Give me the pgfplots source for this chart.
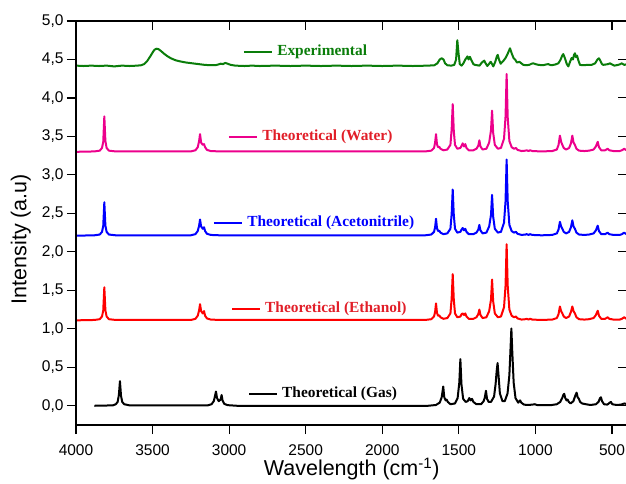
\documentclass[border=0pt]{standalone}
\usepackage{fontspec}
\setmainfont{Liberation Serif}
\newfontfamily\arial{Liberation Sans}
\usepackage{pgfplots}
\pgfplotsset{compat=1.18}
\usepackage{pgfplotstable}
\definecolor{expgreen}{RGB}{10,125,10}
\definecolor{txtred}{RGB}{225,30,40}

\pgfplotstableread{
x y
3880 0
3760 0.005
3740 0.02
3728 0.05
3720 0.14
3713 0.32
3706 0.13
3698 0.05
3685 0.02
3650 0.005
3140 0.005
3115 0.02
3100 0.06
3092 0.13
3086 0.185
3079 0.10
3068 0.06
3056 0.08
3049 0.14
3043 0.07
3032 0.025
3010 0.008
2950 0
1700 0
1650 0.01
1625 0.04
1612 0.11
1602 0.25
1595 0.11
1586 0.07
1580 0.08
1572 0.05
1555 0.02
1525 0.03
1508 0.10
1497 0.30
1490 0.606
1483 0.28
1472 0.09
1455 0.05
1442 0.06
1432 0.10
1423 0.07
1414 0.09
1405 0.05
1385 0.02
1355 0.02
1338 0.06
1330 0.11
1323 0.195
1316 0.09
1305 0.05
1290 0.05
1270 0.12
1260 0.28
1253 0.45
1247 0.555
1241 0.40
1232 0.16
1215 0.06
1200 0.06
1182 0.16
1170 0.40
1163 0.72
1157 1.005
1151 0.70
1142 0.30
1130 0.10
1112 0.04
1100 0.07
1092 0.04
1075 0.015
1050 0.01
1020 0.015
1003 0.02
990 0.01
960 0.008
900 0.008
860 0.02
838 0.05
825 0.10
818 0.14
812 0.155
805 0.10
797 0.07
790 0.08
782 0.05
770 0.03
752 0.06
740 0.13
731 0.17
724 0.11
716 0.09
708 0.05
695 0.03
670 0.02
640 0.01
605 0.02
588 0.05
578 0.10
572 0.11
565 0.06
552 0.02
530 0.015
515 0.04
507 0.05
498 0.02
470 0.01
440 0.015
420 0.03
400 0.02
}\gasdata

\pgfplotstableread{
x eth ace wat
4000 1.110 2.210 3.300
3880 1.115 2.215 3.305
3845 1.125 2.225 3.315
3830 1.160 2.260 3.350
3822 1.240 2.340 3.430
3815 1.540 2.645 3.760
3808 1.240 2.340 3.440
3800 1.160 2.260 3.350
3785 1.125 2.225 3.315
3740 1.115 2.215 3.305
3250 1.115 2.215 3.305
3220 1.130 2.230 3.320
3205 1.170 2.270 3.360
3196 1.240 2.340 3.440
3190 1.320 2.420 3.530
3183 1.230 2.330 3.420
3172 1.200 2.300 3.390
3164 1.230 2.320 3.400
3157 1.170 2.270 3.360
3145 1.135 2.235 3.325
3120 1.120 2.220 3.310
3060 1.115 2.215 3.305
1720 1.115 2.215 3.305
1680 1.125 2.225 3.315
1662 1.160 2.260 3.350
1655 1.220 2.320 3.420
1649 1.330 2.430 3.530
1643 1.210 2.310 3.400
1636 1.170 2.270 3.360
1628 1.175 2.275 3.365
1620 1.150 2.250 3.340
1600 1.130 2.230 3.320
1575 1.140 2.240 3.330
1555 1.200 2.300 3.390
1547 1.390 2.490 3.590
1540 1.710 2.810 3.920
1533 1.380 2.480 3.570
1525 1.200 2.300 3.390
1510 1.150 2.250 3.340
1490 1.160 2.260 3.350
1482 1.190 2.290 3.380
1475 1.200 2.310 3.410
1466 1.180 2.280 3.370
1458 1.200 2.300 3.400
1450 1.160 2.260 3.350
1435 1.130 2.230 3.320
1405 1.130 2.230 3.320
1385 1.150 2.250 3.340
1373 1.190 2.290 3.380
1366 1.250 2.350 3.450
1359 1.180 2.280 3.370
1345 1.140 2.240 3.330
1320 1.150 2.250 3.340
1302 1.230 2.330 3.420
1290 1.380 2.480 3.580
1283 1.640 2.740 3.835
1276 1.360 2.460 3.550
1265 1.200 2.300 3.390
1245 1.150 2.250 3.340
1225 1.160 2.260 3.350
1205 1.280 2.380 3.470
1195 1.560 2.660 3.760
1188 2.100 3.200 4.310
1181 1.560 2.660 3.750
1170 1.250 2.350 3.440
1155 1.170 2.270 3.360
1140 1.150 2.250 3.340
1127 1.160 2.260 3.350
1117 1.135 2.235 3.325
1090 1.120 2.220 3.310
1065 1.125 2.225 3.315
1057 1.130 2.230 3.320
1045 1.120 2.220 3.310
1035 1.130 2.230 3.320
1020 1.120 2.220 3.310
960 1.115 2.215 3.305
890 1.120 2.220 3.310
860 1.140 2.240 3.330
849 1.190 2.290 3.390
840 1.290 2.390 3.510
832 1.230 2.330 3.430
824 1.200 2.300 3.390
815 1.160 2.260 3.350
800 1.140 2.240 3.330
780 1.160 2.260 3.350
768 1.220 2.320 3.410
759 1.290 2.410 3.510
751 1.230 2.330 3.420
742 1.200 2.300 3.390
732 1.150 2.250 3.340
715 1.125 2.225 3.315
680 1.120 2.220 3.310
650 1.125 2.225 3.315
620 1.140 2.240 3.330
605 1.180 2.280 3.370
593 1.235 2.340 3.430
585 1.170 2.270 3.360
570 1.130 2.230 3.320
545 1.130 2.230 3.320
528 1.150 2.250 3.340
518 1.130 2.230 3.320
490 1.120 2.220 3.310
450 1.120 2.220 3.310
435 1.130 2.230 3.320
420 1.150 2.250 3.340
410 1.135 2.235 3.325
400 1.130 2.230 3.320
}\soldata

\pgfplotstableread{
x y
4000 4.420
3950 4.415
3900 4.420
3850 4.415
3800 4.420
3750 4.410
3700 4.420
3650 4.415
3600 4.420
3575 4.425
3555 4.440
3535 4.480
3515 4.540
3500 4.590
3488 4.625
3475 4.640
3462 4.635
3445 4.610
3425 4.575
3405 4.545
3380 4.515
3350 4.490
3320 4.475
3280 4.460
3240 4.450
3200 4.440
3160 4.430
3120 4.425
3090 4.425
3070 4.435
3055 4.445
3040 4.440
3025 4.455
3010 4.445
2990 4.430
2960 4.420
2900 4.415
2850 4.420
2800 4.415
2700 4.420
2600 4.415
2500 4.420
2400 4.415
2300 4.420
2200 4.415
2100 4.420
2000 4.415
1900 4.420
1800 4.415
1700 4.420
1660 4.425
1640 4.450
1625 4.500
1612 4.515
1600 4.500
1590 4.450
1575 4.425
1550 4.420
1530 4.430
1518 4.500
1510 4.750
1502 4.580
1494 4.440
1482 4.420
1470 4.450
1458 4.500
1450 4.520
1444 4.540
1437 4.500
1428 4.535
1418 4.490
1405 4.440
1395 4.430
1380 4.425
1365 4.420
1350 4.460
1334 4.485
1325 4.450
1314 4.415
1300 4.450
1292 4.470
1283 4.440
1275 4.410
1262 4.470
1252 4.540
1246 4.560
1238 4.500
1227 4.445
1210 4.480
1195 4.520
1180 4.580
1166 4.645
1155 4.580
1143 4.520
1133 4.500
1120 4.460
1105 4.470
1092 4.450
1079 4.430
1060 4.425
1040 4.430
1025 4.445
1014 4.450
1000 4.440
981 4.430
950 4.425
930 4.435
916 4.440
905 4.430
894 4.425
870 4.435
850 4.450
835 4.500
825 4.550
818 4.570
808 4.520
795 4.440
785 4.410
772 4.480
763 4.520
755 4.500
748 4.560
742 4.580
735 4.530
728 4.550
720 4.490
709 4.430
690 4.425
660 4.430
633 4.430
610 4.450
595 4.500
585 4.515
575 4.480
565 4.440
557 4.430
540 4.435
525 4.440
513 4.450
500 4.435
485 4.420
460 4.430
445 4.440
437 4.450
420 4.430
400 4.440
}\expdata

\begin{document}
\begin{tikzpicture}
\pgfplotsset{
  common/.style={
    scale only axis, width=551.3pt, height=404pt,
    x dir=reverse, xmin=400, xmax=4000, ymin=-0.25, ymax=5,
    xtick={500,1000,1500,2000,2500,3000,3500,4000},
    ytick={0,0.5,1,1.5,2,2.5,3,3.5,4,4.5,5},
    major tick length=9pt,
    axis line style={line width=1.1pt},
    every tick/.style={line width=1.1pt, black},
  }
}
\begin{axis}[common, name=main,
    tick align=outside, xtick pos=bottom, ytick pos=left,
    tick label style={font=\arial\fontsize{15.5}{17}\selectfont},
    /pgf/number format/assume math mode=true,
    x tick label style={/pgf/number format/1000 sep={}, yshift=-7pt},
    y tick label style={/pgf/number format/.cd, use comma, fixed, fixed zerofill, precision=1},
    xlabel={Wavelength (cm\textsuperscript{-1})},
    ylabel={Intensity (a.u)},
    label style={font=\arial\fontsize{21.5}{24}\selectfont},
    x label style={at={(axis description cs:0.5,0)}, anchor=center, yshift=-44pt},
    y label style={at={(axis description cs:-0.1,0.46)}, anchor=center},
    every axis plot/.append style={line width=2pt, line join=round},
  ]
\addplot[black, no markers] table[x=x, y=y] {\gasdata};
\addplot[red, no markers] table[x=x, y=eth] {\soldata};
\addplot[blue, no markers] table[x=x, y=ace] {\soldata};
\addplot[magenta, no markers] table[x=x, y=wat] {\soldata};
\addplot[expgreen, no markers] table[x=x, y=y] {\expdata};

\draw[expgreen, line width=2pt] (axis cs:2903,4.597) -- (axis cs:2720,4.597);
\node[anchor=west, inner sep=0pt, text=expgreen, font=\bfseries\fontsize{15.4}{18}\selectfont] at (axis cs:2687,4.597) {Experimental};
\draw[magenta, line width=2pt] (axis cs:3001,3.49) -- (axis cs:2818,3.49);
\node[anchor=west, inner sep=0pt, text=txtred, font=\bfseries\fontsize{15.4}{18}\selectfont] at (axis cs:2785,3.49) {Theoretical (Water)};
\draw[blue, line width=2pt] (axis cs:3099,2.377) -- (axis cs:2916,2.377);
\node[anchor=west, inner sep=0pt, text=blue, font=\bfseries\fontsize{15.4}{18}\selectfont] at (axis cs:2883,2.377) {Theoretical (Acetonitrile)};
\draw[red, line width=2pt] (axis cs:2981,1.26) -- (axis cs:2798,1.26);
\node[anchor=west, inner sep=0pt, text=txtred, font=\bfseries\fontsize{15.4}{18}\selectfont] at (axis cs:2766,1.26) {Theoretical (Ethanol)};
\draw[black, line width=2pt] (axis cs:2870,0.156) -- (axis cs:2687,0.156);
\node[anchor=west, inner sep=0pt, text=black, font=\bfseries\fontsize{15.4}{18}\selectfont] at (axis cs:2655,0.156) {Theoretical (Gas)};
\end{axis}
\begin{axis}[common, at={(main.south west)}, anchor=south west,
    tick align=inside, xtick pos=top, ytick pos=right,
    xticklabels={}, yticklabels={}]
\end{axis}
\pgfresetboundingbox
\path ([shift={(-76pt,-58pt)}]main.south west) rectangle ([shift={(550pt,425pt)}]main.south west);
\end{tikzpicture}
\end{document}
